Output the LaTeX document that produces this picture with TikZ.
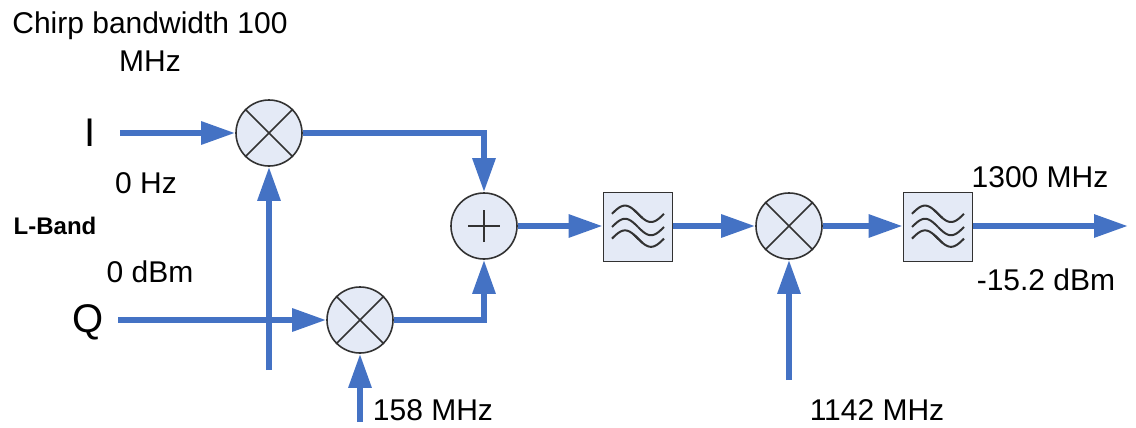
\documentclass[tikz,border=0pt]{standalone}
\usepackage{fontspec}
\setmainfont{Liberation Sans}
\usetikzlibrary{arrows.meta}

\definecolor{sigblue}{RGB}{68,114,196}
\definecolor{boxfill}{RGB}{228,234,246}
\definecolor{boxline}{RGB}{50,50,50}

% three waves of the band-pass symbol, centred on a node
\newcommand{\filterwaves}[1]{%
  \begin{scope}[shift={(#1.center)}, boxline, line width=1pt]
    \foreach \dy/\ov in {6.6/30, 0/0, -5.8/30} {
      \draw plot[domain=0:180+\ov, samples=30] ({-13pt+13pt*\x/180}, {\dy pt+4.1pt*sin(\x)});
      \draw plot[domain=-\ov:180, samples=30] ({13pt*\x/180}, {\dy pt-4.1pt*sin(\x)});
    }
  \end{scope}
}

\begin{document}
\begin{tikzpicture}[x=0.5pt, y=-0.5pt,
    sig/.style={sigblue, line width=3pt},
    sigarrow/.style={sig, -{Triangle[length=17pt,width=11pt]}},
    mixer/.style={circle, draw=boxline, fill=boxfill, line width=0.8pt, minimum size=33pt, inner sep=0pt},
    filterbox/.style={rectangle, draw=boxline, fill=boxfill, line width=0.9pt, minimum size=34.5pt, inner sep=0pt},
    lbl/.style={font=\fontsize{15}{18}\selectfont},
    biglbl/.style={font=\fontsize{20}{24}\selectfont}]

  \useasboundingbox (0,0) rectangle (1136,428);

  % blocks
  \node[mixer] (MixI) at (269,133) {};
  \node[mixer] (MixQ) at (360,320) {};
  \node[mixer] (Sum) at (484,226) {};
  \node[filterbox] (FiltA) at (638,227) {};
  \node[mixer] (MixUp) at (789,226) {};
  \node[filterbox] (FiltB) at (938,227) {};

  % symbols inside the blocks
  \foreach \m in {MixI, MixQ, MixUp} {
    \draw[boxline, line width=0.8pt] (\m.north west) -- (\m.south east)
      (\m.north east) -- (\m.south west);
  }
  \draw[boxline, line width=0.8pt] (Sum.center) +(-8pt,0) -- +(8pt,0)
    (Sum.center) +(0,-8pt) -- +(0,8pt);
  \filterwaves{FiltA}
  \filterwaves{FiltB}

  % free ends of the signal lines
  \coordinate (InI) at (120,133);
  \coordinate (InQ) at (118,320);
  \coordinate (LoI) at (269,370);
  \coordinate (LoQ) at (360,422);
  \coordinate (LoUp) at (789,380);
  \coordinate (Out) at (1128,226);

  % signal lines
  \draw[sigarrow] (InI) -- (MixI);
  \draw[sigarrow] (InQ) -- (MixQ);
  \draw[sigarrow] (LoI) -- (MixI);
  \draw[sigarrow] (LoQ) -- (MixQ);
  \draw[sigarrow] (MixI.east) -| (Sum.north);
  \draw[sigarrow] (MixQ.east) -| (Sum.south);
  \draw[sigarrow] (Sum) -- (Sum -| FiltA.west);
  \draw[sigarrow] (FiltA.east |- MixUp) -- (MixUp);
  \draw[sigarrow] (MixUp) -- (MixUp -| FiltB.west);
  \draw[sigarrow] (LoUp) -- (MixUp);
  \draw[sigarrow] (FiltB.east |- Out) -- (Out);

  % labels
  \node[align=center, font=\fontsize{15}{19}\selectfont] (Chirp) at (150,42) {Chirp bandwidth 100\\MHz};
  \node[biglbl] (LblI) at (90,133) {I};
  \node[biglbl] (LblQ) at (88,322) {Q};
  \node[lbl] (FreqIQ) at (146,183) {0 Hz};
  \node[font=\bfseries\fontsize{12}{14}\selectfont] (Band) at (55,226) {L-Band};
  \node[lbl] (PowIn) at (150,272) {0 dBm};
  \node[lbl] (FreqLoQ) at (433,410) {158 MHz};
  \node[lbl] (FreqLoUp) at (877,410) {1142 MHz};
  \node[lbl] (FreqOut) at (1040,177) {1300 MHz};
  \node[lbl] (PowOut) at (1046,280) {-15.2 dBm};
\end{tikzpicture}
\end{document}
